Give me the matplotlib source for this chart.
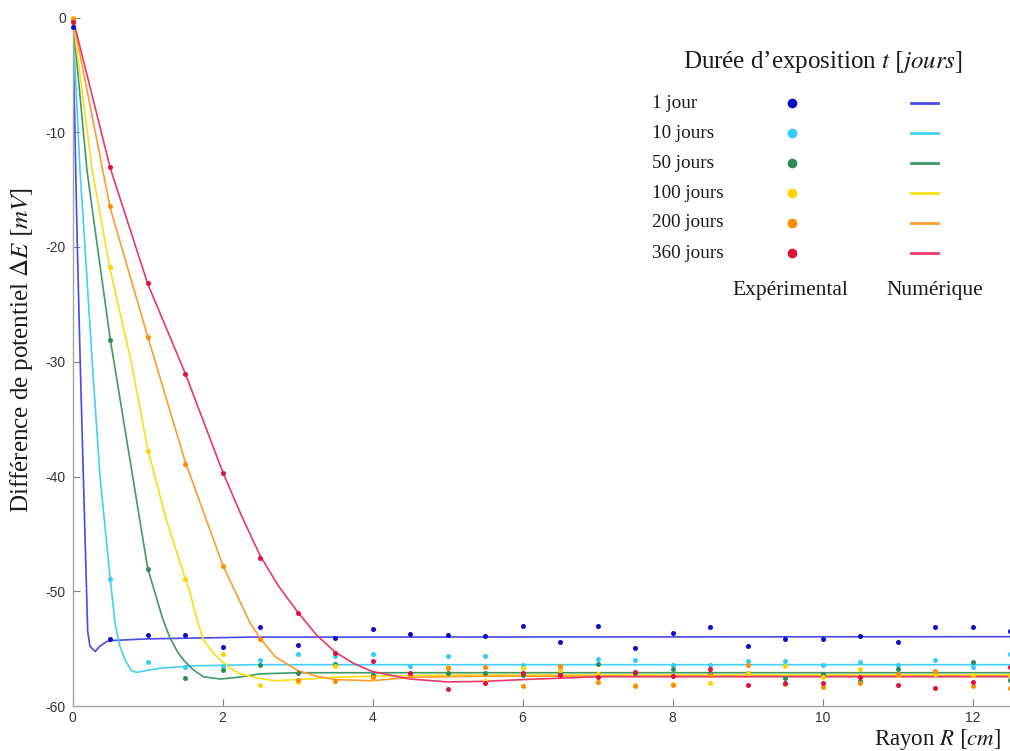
import matplotlib
matplotlib.use("Agg")
import matplotlib.pyplot as plt
from matplotlib.lines import Line2D

plt.rcParams['mathtext.fontset'] = 'stix'
plt.rcParams['axes.unicode_minus'] = False

# --- données expérimentales (points tous les 0.5 cm) ---
r_exp = [0.0, 0.5, 1.0, 1.5, 2.0, 2.5, 3.0, 3.5, 4.0, 4.5, 5.0, 5.5, 6.0,
         6.5, 7.0, 7.5, 8.0, 8.5, 9.0, 9.5, 10.0, 10.5, 11.0, 11.5, 12.0, 12.5]

exp_1 = [-0.85, -54.2, -53.8, -53.8, -54.9, -53.1, -54.7, -54.1, -53.3, -53.7, -53.85, -53.9, -53.0,
         -54.4, -53.0, -54.95, -53.6, -53.1, -54.8, -54.2, -54.2, -53.9, -54.4, -53.1, -53.1, -53.5]
exp_10 = [-0.3, -48.9, -56.2, -56.6, -56.5, -56.0, -55.5, -55.6, -55.5, -56.5, -55.65, -55.6, -56.4,
          -56.8, -55.9, -56.0, -56.4, -56.4, -56.05, -56.1, -56.4, -56.2, -56.4, -56.0, -56.6, -55.5]
exp_50 = [-0.1, -28.1, -48.1, -57.6, -56.9, -56.4, -57.15, -56.3, -57.3, -57.2, -57.1, -57.15, -57.3,
          -57.2, -56.3, -57.15, -56.75, -57.1, -57.15, -57.6, -57.2, -57.85, -56.75, -57.1, -56.2, -57.75]
exp_100 = [0.0, -21.7, -37.8, -48.9, -55.5, -58.2, -57.95, -56.5, -57.6, -57.3, -56.6, -57.8, -56.7,
           -56.9, -57.2, -58.2, -58.1, -58.0, -57.1, -56.5, -57.45, -56.8, -57.3, -57.2, -57.3, -57.3]
exp_200 = [-0.1, -16.4, -27.8, -38.9, -47.8, -54.2, -57.7, -57.8, -57.45, -57.4, -56.7, -56.6, -58.3,
           -56.5, -57.9, -58.3, -58.2, -57.3, -56.45, -58.1, -58.35, -58.0, -57.2, -56.95, -58.3, -58.4]
exp_360 = [-0.4, -13.0, -23.1, -31.1, -39.7, -47.1, -51.9, -55.4, -56.1, -57.1, -58.5, -58.0, -57.1,
           -57.3, -57.5, -57.0, -57.35, -56.8, -58.2, -58.0, -58.0, -57.45, -58.2, -58.4, -57.95, -56.6]

# --- courbes numériques ---
r_num_1 = [0.0, 0.04, 0.062, 0.1, 0.142, 0.185, 0.2, 0.23, 0.3, 0.36, 0.45, 0.5, 1.0, 2.35, 12.5]
num_1 = [0.0, -13.3, -20.0, -30.0, -40.0, -50.0, -53.5, -54.8, -55.25, -54.8, -54.4, -54.3, -54.15, -54.0, -53.96]

r_num_10 = [0.0, 0.097, 0.164, 0.26, 0.364, 0.5, 0.565, 0.63, 0.70, 0.78, 0.85, 0.95, 1.17, 1.6, 2.4, 12.5]
num_10 = [0.0, -13.3, -20.0, -30.0, -40.0, -48.9, -52.8, -54.8, -56.0, -56.9, -57.07, -56.95, -56.7, -56.5, -56.4, -56.4]

r_num_50 = [0.0, 0.19, 0.33, 0.5, 0.8, 1.0, 1.10, 1.20, 1.30, 1.40, 1.48, 1.60, 1.74, 1.97, 2.2, 2.5, 3.0, 12.5]
num_50 = [0.0, -13.3, -20.0, -28.0, -40.0, -48.0, -50.2, -52.4, -54.1, -55.3, -56.0, -56.8, -57.45, -57.65, -57.5, -57.2, -57.1, -57.1]

r_num_100 = [0.0, 0.26, 0.5, 0.78, 1.0, 1.25, 1.5, 1.56, 1.65, 1.74, 1.85, 1.97, 2.1, 2.23, 2.5, 2.7, 3.0, 3.5, 4.0, 5.0, 12.5]
num_100 = [0.0, -13.3, -22.0, -30.0, -37.6, -43.8, -48.9, -50.0, -52.3, -54.2, -55.2, -56.0, -56.7, -57.2, -57.6, -57.8, -57.7, -57.5, -57.4, -57.3, -57.3]

r_num_200 = [0.0, 0.5, 1.0, 1.5, 2.0, 2.18, 2.37, 2.5, 2.7, 3.0, 3.25, 3.5, 4.0, 4.5, 5.5, 12.5]
num_200 = [0.0, -16.6, -27.8, -38.7, -47.7, -50.2, -52.8, -54.1, -55.7, -56.9, -57.4, -57.7, -57.8, -57.5, -57.4, -57.4]

r_num_360 = [0.0, 0.5, 1.0, 1.5, 2.0, 2.25, 2.5, 2.75, 3.0, 3.25, 3.5, 3.75, 4.0, 4.5, 5.0, 5.5, 6.0, 7.0, 12.5]
num_360 = [0.0, -13.1, -23.2, -31.0, -39.6, -43.4, -46.9, -49.6, -51.8, -53.8, -55.3, -56.3, -57.0, -57.65, -57.9, -57.85, -57.7, -57.45, -57.45]

labels = ['1 jour', '10 jours', '50 jours', '100 jours', '200 jours', '360 jours']
dot_colors = ['#0b0bcc', '#33ccff', '#2e8b57', '#ffd200', '#ff8c00', '#e0103c']
line_colors = ['#4a4ae2', '#45cff5', '#3f9a68', '#f9df1a', '#ff9a2e', '#e8386a']

exp_series = [exp_1, exp_10, exp_50, exp_100, exp_200, exp_360]
num_series = [(r_num_1, num_1), (r_num_10, num_10), (r_num_50, num_50),
              (r_num_100, num_100), (r_num_200, num_200), (r_num_360, num_360)]

W, H = 1010, 751
fig = plt.figure(figsize=(W / 100, H / 100), dpi=100)
ax = fig.add_axes([72.7 / W, 1 - 706 / H, 1 - 72.7 / W, (706 - 17.5) / H])


def fx(px):
    return px / W


def fy(py):
    return 1 - py / H


for (rn, vn), col in zip(num_series, line_colors):
    ax.plot(rn, vn, color=col, lw=1.2, zorder=2, solid_joinstyle='round')
for ve, col in zip(exp_series, dot_colors):
    ax.plot(r_exp, ve, 'o', color=col, ms=3.6, mec='none', zorder=3, clip_on=False)

ax.set_xlim(0, 12.5)
ax.set_ylim(-60, 0)
ax.set_xticks([0, 2, 4, 6, 8, 10, 12])
ax.set_yticks([0, -10, -20, -30, -40, -50, -60])
for s in ['top', 'right']:
    ax.spines[s].set_visible(False)
for s in ['left', 'bottom']:
    ax.spines[s].set_color('#a6a6a6')
    ax.spines[s].set_linewidth(1.0)
ax.tick_params(direction='in', length=5, color='#808080', labelsize=10,
               labelcolor='#333333', pad=5)
ax.tick_params(axis='x', pad=3.5)
for lab in ax.get_xticklabels() + ax.get_yticklabels():
    lab.set_fontfamily('Liberation Sans')

serif = 'Liberation Serif'
fig.text(fx(22), fy(350), r'Différence de potentiel $\Delta E$ $[mV]$', rotation=90,
         ha='center', va='center', fontsize=18, family=serif, color='#1a1a1a')
fig.text(fx(1001), fy(739), r'Rayon $R$ $[cm]$', ha='right', va='center',
         fontsize=16.5, family=serif, color='#1a1a1a')

# légende faite à la main
fig.text(fx(823), fy(62), r'Durée d’exposition $t$ $[jours]$', ha='center', va='center',
         fontsize=18, family=serif, color='#1a1a1a')
row_y = [103, 133, 163, 193, 223, 253]
for lab, yy, dc, lc in zip(labels, row_y, dot_colors, line_colors):
    fig.text(fx(652), fy(yy), lab, ha='left', va='center', fontsize=13.8,
             family=serif, color='#1a1a1a')
    fig.add_artist(Line2D([fx(792)], [fy(yy)], marker='o', ms=7, color=dc, mec='none',
                          transform=fig.transFigure))
    fig.add_artist(Line2D([fx(911), fx(938)], [fy(yy), fy(yy)], lw=2, color=lc,
                          transform=fig.transFigure))
fig.text(fx(790), fy(291), 'Expérimental', ha='center', va='center', fontsize=15.5,
         family=serif, color='#1a1a1a')
fig.text(fx(935), fy(291), 'Numérique', ha='center', va='center', fontsize=15.5,
         family=serif, color='#1a1a1a')

fig.savefig('out.png', dpi=100)
